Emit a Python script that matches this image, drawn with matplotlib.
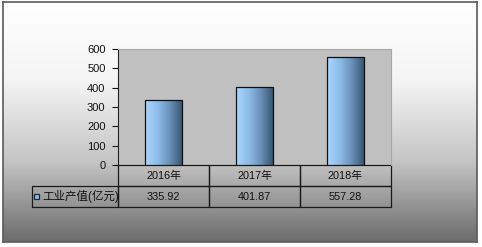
import numpy as np
import matplotlib.pyplot as plt
from matplotlib.colors import LinearSegmentedColormap
from matplotlib.patches import Rectangle

plt.rcParams['font.family'] = ['Liberation Sans', 'Noto Sans CJK SC', 'DejaVu Sans']
plt.rcParams['font.size'] = 7.5

years = ['2016年', '2017年', '2018年']
values = [335.92, 401.87, 557.28]
series_name = '工业产值(亿元)'
yticks = [0, 100, 200, 300, 400, 500, 600]

fig = plt.figure(figsize=(4.82, 2.47), dpi=100)
fig.patch.set_facecolor('white')

# 背景のグラデーション
bg = fig.add_axes([3 / 482, 5 / 247, 474 / 482, 240 / 247])
bg_cmap = LinearSegmentedColormap.from_list('bg', ['#ffffff', '#f4f4f4', '#c4c4c4', '#6c6c6c'])
bg.imshow(np.linspace(0, 1, 256).reshape(-1, 1), aspect='auto', cmap=bg_cmap,
          extent=[0, 1, 0, 1])
bg.set_xticks([])
bg.set_yticks([])
for s in bg.spines.values():
    s.set_color('#5a5a5a')
    s.set_linewidth(1.2)

ax = fig.add_axes([118 / 482, 82 / 247, 273 / 482, 116 / 247])
ax.set_facecolor('#c0c0c0')
x = np.arange(len(years))
bars = ax.bar(x, values, width=0.4, color='none', edgecolor='#111111', linewidth=0.9, zorder=3)

bar_cmap = LinearSegmentedColormap.from_list('bar', ['#a8d6ff', '#8fbde9', '#6a92bb', '#3a5672'])
grad = np.linspace(0, 1, 128).reshape(1, -1)
for b in bars:
    im = ax.imshow(grad, aspect='auto', cmap=bar_cmap, zorder=2,
                   extent=[b.get_x(), b.get_x() + b.get_width(), 0, b.get_height()])
    im.set_clip_path(b)

ax.set_xlim(-0.5, len(years) - 0.5)
ax.set_ylim(0, 600)
ax.set_yticks(yticks)
ax.set_xticks([])
ax.tick_params(axis='y', direction='out', length=4, width=0.8, colors='#111111', pad=5,
               labelsize=8)
ax.spines['left'].set_color('#222222')
ax.spines['top'].set_color('#a8a8a8')
ax.spines['right'].set_color('#a8a8a8')
ax.spines['bottom'].set_visible(False)

# 下の表
lw = 86 / 273
tbl = ax.table(cellText=[[f'{v:.2f}' for v in values]], rowLabels=[series_name],
               colLabels=years, colWidths=[1 / 3] * 3,
               cellLoc='center', rowLoc='left',
               bbox=[0, -42 / 116, 1, 42 / 116])
tbl.auto_set_font_size(False)
tbl._autoColumns = []  # 行ラベルの幅は固定
tbl[1, -1].set_width(lw)
tbl[1, -1].PAD = 0.12
for (r, c), cell in tbl.get_celld().items():
    cell.set_facecolor('none')
    cell.set_edgecolor('#1a1a1a')
    cell.set_linewidth(0.9)
    cell.get_text().set_fontsize(7.8)
    cell.get_text().set_color('#111111')
tbl[1, -1].get_text().set_fontsize(8.3)

# 凡例マーク
ax.add_patch(Rectangle((-0.307, -0.289), 0.018, 0.043, transform=ax.transAxes,
                       facecolor='#8fbde9', edgecolor='#1a2a3a', linewidth=0.9,
                       clip_on=False, zorder=5))

fig.savefig('out.png', dpi=100)
